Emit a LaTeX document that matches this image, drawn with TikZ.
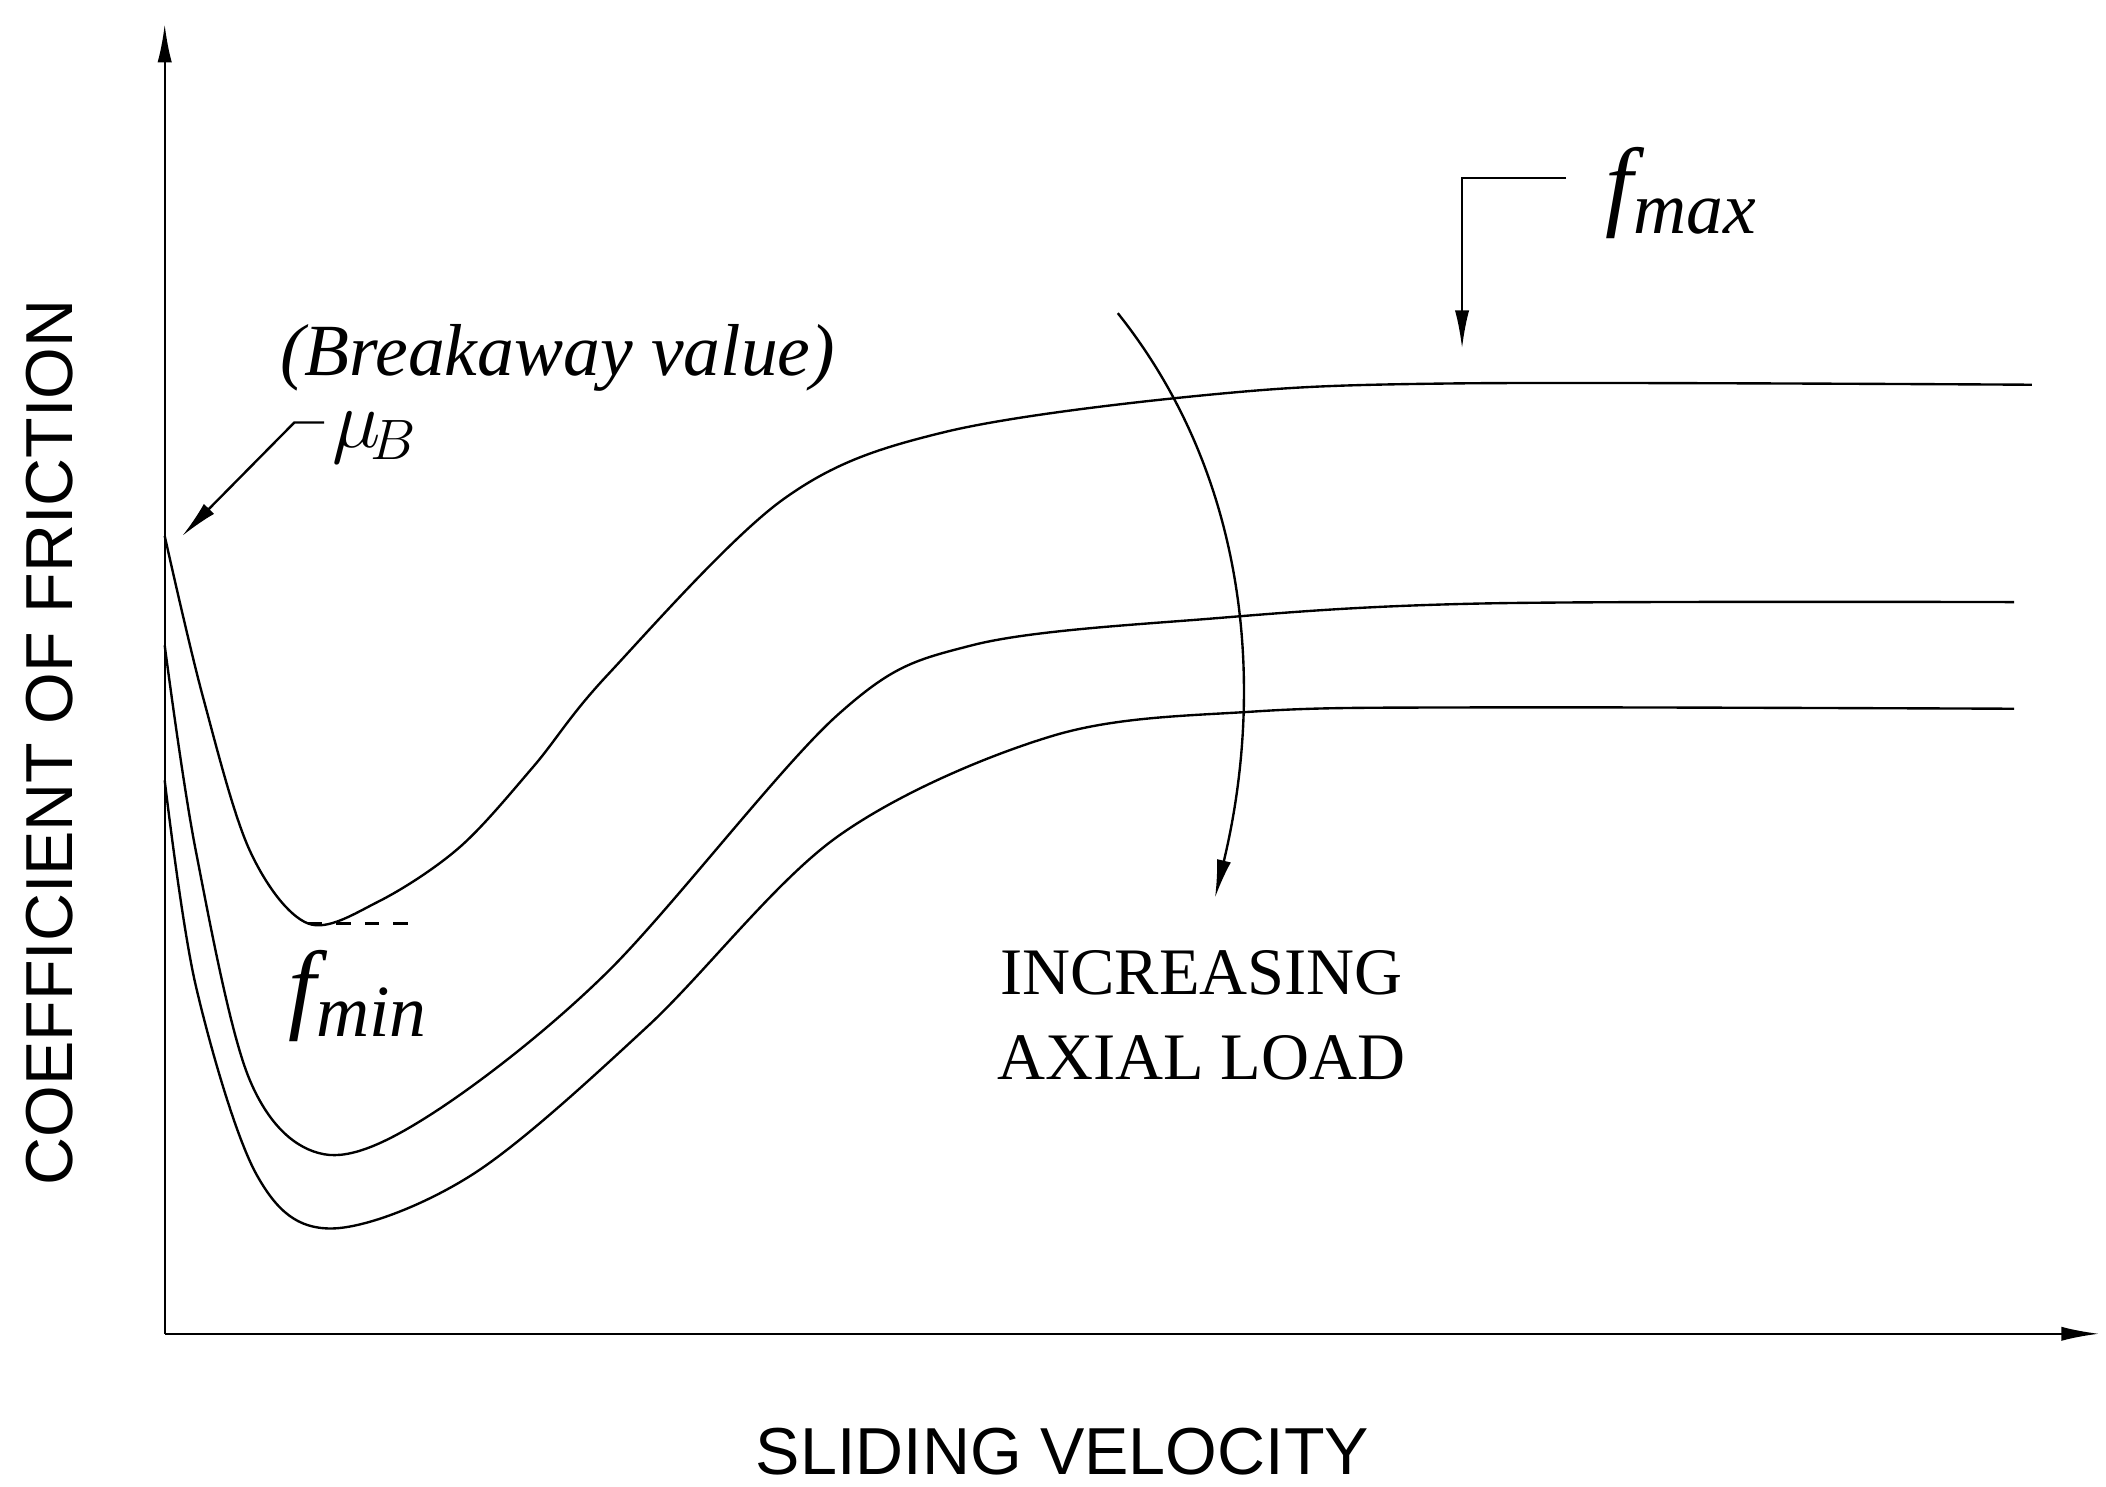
\documentclass[tikz,border=0pt]{standalone}
\usepackage{fontspec}
\setmainfont{Liberation Serif}
\newfontfamily\axfont{Liberation Sans}
\usetikzlibrary{arrows.meta}
\begin{document}
\begin{tikzpicture}[x=0.01cm,y=-0.01cm,
  crv/.style={line width=0.5pt,smooth,tension=0.55},
  lbl/.style={font=\fontsize{15.5}{18}\selectfont\itshape},
  ax/.style={font=\axfont\fontsize{14}{16}\selectfont},
  arr/.style={line width=0.5pt,-{Latex[length=8pt,width=3pt]}}]
\useasboundingbox (0,0) rectangle (1560,1101);
\coordinate (O) at (122,988);
\coordinate (Y) at (122,18);
\coordinate (X) at (1555,988);
\draw[arr] (O) -- (Y);
\draw[arr] (O) -- (X);
\draw[crv] plot coordinates {(122,397) (150,515) (185,630) (228,684) (280,668) (340,628) (395,568) (450,500) (580,370) (700,320) (900,292) (1080,284) (1505,285)};
\draw[crv] plot coordinates {(122,478) (145,630) (185,800) (240,855) (320,825) (450,720) (620,530) (720,478) (900,458) (1100,447) (1492,446)};
\draw[crv] plot coordinates {(122,578) (145,730) (190,870) (245,910) (350,870) (480,760) (620,620) (780,545) (930,527) (1100,524) (1492,525)};
\draw[dashed,line width=0.5pt] (228,684) -- (310,684);
\node[lbl] (brk) at (413,265) {(Breakaway value)};
\node[lbl,font=\fontsize{17}{18}\selectfont] (muB) at (278,324) {$\mu_{\!B}$};
\coordinate (m1) at (240,313);
\coordinate (m2) at (218,313);
\coordinate (m3) at (135,397);
\draw[arr] (m1) -- (m2) -- (m3);
\node[font=\fontsize{21}{22}\selectfont\itshape] (fmin) at (265,738) {f\raisebox{-0.35ex}{\fontsize{15.5}{16}\selectfont min}};
\node[font=\fontsize{21}{22}\selectfont\itshape] (fmax) at (1245,143) {f\raisebox{-0.35ex}{\fontsize{15.5}{16}\selectfont max}};
\coordinate (a1) at (1160,132);
\coordinate (a2) at (1083,132);
\coordinate (a3) at (1083,258);
\draw[arr] (a1) -- (a2) -- (a3);
\coordinate (c1) at (828,232);
\coordinate (c2) at (900,665);
\draw[arr] (c1) .. controls (930,360) and (935,520) .. (c2);
\node[font=\fontsize{14}{18}\selectfont,align=center] (inc) at (890,752) {INCREASING\\AXIAL LOAD};
\node[ax,rotate=90] (yl) at (37,550) {COEFFICIENT OF FRICTION};
\node[ax] (xl) at (787,1075) {SLIDING VELOCITY};
\end{tikzpicture}
\end{document}
